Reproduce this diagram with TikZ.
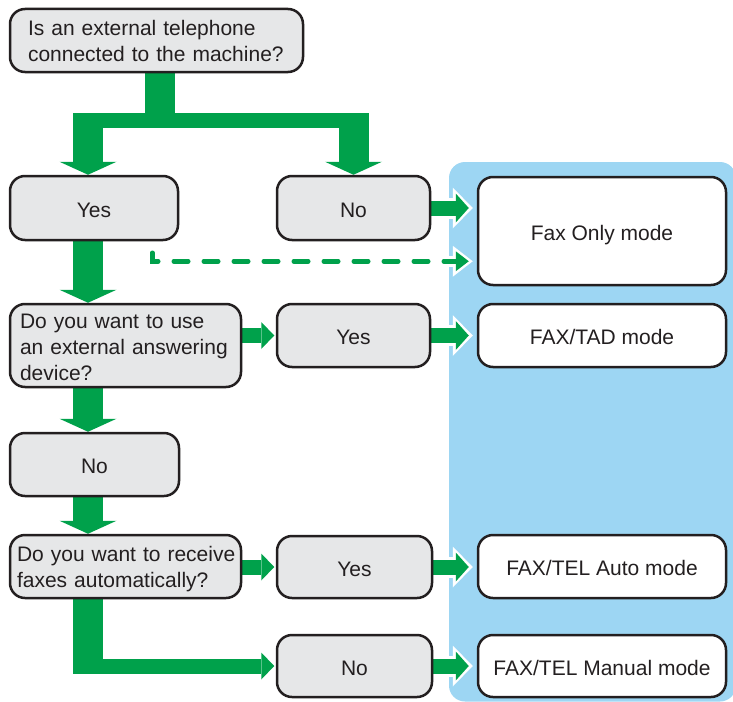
\documentclass[tikz,border=0pt]{standalone}
\usepackage{fontspec}
\setmainfont{Liberation Sans}
\usetikzlibrary{arrows.meta,calc}
\definecolor{fgreen}{RGB}{0,161,75}
\definecolor{panelblue}{RGB}{157,214,243}
\definecolor{boxgray}{RGB}{230,231,232}
\definecolor{ink}{RGB}{35,31,32}
\pgfdeclarelayer{bg}
\pgfsetlayers{bg,main}
\begin{document}
\begin{tikzpicture}[x=1pt,y=-1pt,
  box/.style={draw=ink, line width=2.5pt, rounded corners=15pt, fill=boxgray, text=ink,
    font=\fontsize{21}{26}\selectfont, inner sep=0pt, align=center},
  onel/.style={text height=18pt, text depth=0pt},
  endbox/.style={box, onel, fill=white},
  ansbox/.style={box, onel},
  qbox/.style={box, align=left},
  gdown/.style={draw=fgreen, line width=30pt, -{Triangle[length=13pt 0 0,width=57pt 0 0,line width=0pt 0 0]}},
  gbar/.style={draw=fgreen, line width=15pt},
  gtrunk/.style={draw=fgreen, line width=30pt},
  gright/.style={draw=fgreen, line width=15pt, shorten >=1.5pt, -{Triangle[length=13pt 0 0,width=27pt 0 0,line width=0pt 0 0]}},
  gout/.style={draw=fgreen, line width=15pt, shorten >=8pt, -{Triangle[length=13pt 0 0,width=29pt 0 0,line width=0pt 0 0]}},
  wout/.style={draw=white, line width=21pt, shorten >=4pt, -{Triangle[length=20pt 0 0,width=41pt 0 0,line width=0pt 0 0]}},
  gdash/.style={draw=fgreen, line width=4.5pt, line cap=round, dash pattern=on 14.5pt off 15.5pt, shorten >=8pt, -{Triangle[length=13pt 0 0,width=20pt 0 0,line width=0pt 0 0]}},
  wdash/.style={draw=white, line width=10.5pt, line cap=round, dash pattern=on 14.5pt off 15.5pt, shorten >=4pt, -{Triangle[length=20pt 0 0,width=31pt 0 0,line width=0pt 0 0]}},
]
\useasboundingbox (0,0) rectangle (733,701);

% boxes
\node[qbox, minimum width=293pt, minimum height=63pt, inner xsep=18pt, text width=257pt] (q1) at (156.5,40.5)
  {\mbox{\rule{0pt}{17.2pt}Is an external telephone}\\\mbox{connected to the machine?}};
\node[ansbox, minimum width=168pt, minimum height=64pt] (yes1) at (94,208) {Yes};
\node[ansbox, minimum width=153pt, minimum height=64pt] (no1) at (353.5,208) {No};
\node[endbox, minimum width=248pt, minimum height=108pt] (fax) at (602,231) {Fax Only mode};

\node[qbox, minimum width=231pt, minimum height=83pt, inner xsep=10pt, text width=211pt] (q2) at (125.5,345.5)
  {\mbox{\rule{0pt}{18pt}Do you want to use}\\\mbox{an external answering}\\\mbox{device?}};
\node[ansbox, minimum width=153pt, minimum height=63pt] (yes2) at (353.5,335.5) {Yes};
\node[endbox, minimum width=248pt, minimum height=63pt] (tad) at (602,335.5) {FAX/TAD mode};

\node[ansbox, minimum width=169pt, minimum height=63pt] (no2) at (94.5,464.5) {No};

\node[qbox, minimum width=231pt, minimum height=63pt, inner xsep=7pt, text width=217pt] (q3) at (125.5,566.5)
  {\mbox{\rule{0pt}{20.8pt}Do you want to receive}\\\mbox{faxes automatically?}};
\node[ansbox, minimum width=155pt, minimum height=62pt] (yes3) at (354.5,567) {Yes};
\node[endbox, minimum width=248pt, minimum height=63pt] (auto) at (602,566.5) {FAX/TEL Auto mode};

\node[ansbox, minimum width=155pt, minimum height=62pt] (no3) at (354.5,666) {No};
\node[endbox, minimum width=248pt, minimum height=62pt] (manual) at (602,666) {FAX/TEL Manual mode};

\coordinate (cx) at (88,0);
\coordinate (bl) at (73,120.5);
\coordinate (br) at (368.5,120.5);
\coordinate (tk) at (160,128);
\coordinate (ds) at ($(yes1.south east)+(-27,11.5)$);
\coordinate (de) at ($(fax.south west)+(0,-25)$);

\begin{pgfonlayer}{bg}
  % blue panel
  \fill[panelblue, rounded corners=16pt] (449,162) rectangle (736,701.5);

  % white outlines on the panel
  \draw[wout] (no1.east) -- (no1.east -| fax.west);
  \draw[wout] (yes2.east) -- (yes2.east -| tad.west);
  \draw[wout] (yes3.east) -- (yes3.east -| auto.west);
  \draw[wout] (no3.east) -- (no3.east -| manual.west);
  \draw[wdash] (ds) |- (de);

  % green flow
  \draw[gtrunk] (q1.south -| tk) -- (tk);
  \draw[gbar] (bl) -- (br);
  \draw[gdown] (cx |- bl) -- (yes1.north -| cx);
  \draw[gdown] (no1.north |- br) -- (no1.north);
  \draw[gdown] (yes1.south -| cx) -- (q2.north -| cx);
  \draw[gdown] (q2.south -| cx) -- (no2.north -| cx);
  \draw[gdown] (no2.south -| cx) -- (q3.north -| cx);
  \draw[gtrunk] (q3.south -| cx) -- ($(cx |- no3.west)+(0,7.5)$);
  \draw[gright] ($(cx |- no3.west)+(-15,0)$) -- (no3.west);
  \draw[gright] (q2.east |- yes2.west) -- (yes2.west);
  \draw[gright] (q3.east |- yes3.west) -- (yes3.west);

  \draw[gout] (no1.east) -- (no1.east -| fax.west);
  \draw[gout] (yes2.east) -- (yes2.east -| tad.west);
  \draw[gout] (yes3.east) -- (yes3.east -| auto.west);
  \draw[gout] (no3.east) -- (no3.east -| manual.west);
  \draw[gdash] (ds) |- (de);
\end{pgfonlayer}
\end{tikzpicture}
\end{document}
